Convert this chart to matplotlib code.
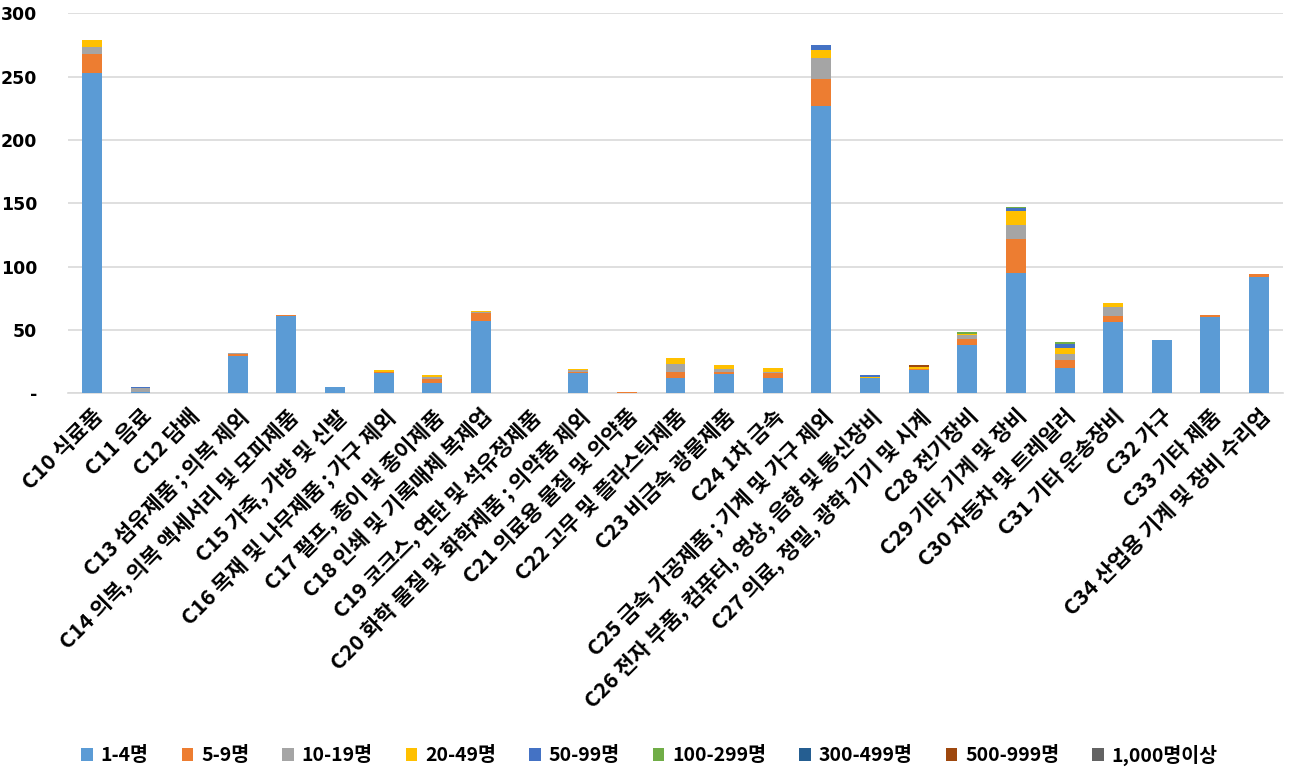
import numpy as np
import matplotlib
matplotlib.use('Agg')
import matplotlib.pyplot as plt

plt.rcParams['font.family'] = ['Noto Sans CJK KR', 'DejaVu Sans']

# categories (industry codes)
cats = ['C10 식료품', 'C11 음료', 'C12 담배', 'C13 섬유제품 ; 의복 제외',
        'C14 의복, 의복 액세서리 및 모피제품', 'C15 가죽, 가방 및 신발',
        'C16 목재 및 나무제품 ; 가구 제외', 'C17 펄프, 종이 및 종이제품',
        'C18 인쇄 및 기록매체 복제업', 'C19 코크스, 연탄 및 석유정제품',
        'C20 화학 물질 및 화학제품 ; 의약품 제외', 'C21 의료용 물질 및 의약품',
        'C22 고무 및 플라스틱제품', 'C23 비금속 광물제품', 'C24 1차 금속',
        'C25 금속 가공제품 ; 기계 및 가구 제외', 'C26 전자 부품, 컴퓨터, 영상, 음향 및 통신장비',
        'C27 의료, 정밀, 광학 기기 및 시계', 'C28 전기장비', 'C29 기타 기계 및 장비',
        'C30 자동차 및 트레일러', 'C31 기타 운송장비', 'C32 가구', 'C33 기타 제품',
        'C34 산업용 기계 및 장비 수리업']

series_names = ['1-4명', '5-9명', '10-19명', '20-49명', '50-99명', '100-299명',
                '300-499명', '500-999명', '1,000명이상']

s_1_4 = [253, 1, 0, 29, 61, 5, 16, 8, 57, 0, 16, 0, 12, 15, 12, 227, 12, 18, 38, 95, 20, 56, 42, 60, 92]
s_5_9 = [15, 0, 0, 2, 1, 0, 1, 3, 6, 0, 1, 1, 5, 2, 4, 21, 0, 1, 5, 27, 6, 5, 0, 2, 2]
s_10_19 = [5, 3, 0, 1, 0, 0, 0, 2, 1, 0, 1, 0, 6, 2, 1, 17, 0, 0, 3, 11, 5, 7, 0, 0, 0]
s_20_49 = [6, 0, 0, 0, 0, 0, 1, 1, 1, 0, 1, 0, 5, 3, 3, 6, 1, 2, 1, 11, 5, 3, 0, 0, 0]
s_50_99 = [0, 1, 0, 0, 0, 0, 0, 0, 0, 0, 0, 0, 0, 0, 0, 4, 1, 0, 0, 2, 3, 0, 0, 0, 0]
s_100_299 = [0, 0, 0, 0, 0, 0, 0, 0, 0, 0, 0, 0, 0, 0, 0, 0, 0, 0, 1, 1, 1, 0, 0, 0, 0]
s_300_499 = [0] * 25
s_500_999 = [0, 0, 0, 0, 0, 0, 0, 0, 0, 0, 0, 0, 0, 0, 0, 0, 0, 1, 0, 0, 0, 0, 0, 0, 0]
s_1000 = [0] * 25

series = [s_1_4, s_5_9, s_10_19, s_20_49, s_50_99, s_100_299, s_300_499, s_500_999, s_1000]
colors = ['#5B9BD5', '#ED7D31', '#A5A5A5', '#FFC000', '#4472C4', '#70AD47',
          '#255E91', '#9E480E', '#636363']

fig = plt.figure(figsize=(12.99, 7.8), dpi=100)
ax = fig.add_axes([0.052, 0.496, 0.936, 0.487])

x = np.arange(len(cats))
bottom = np.zeros(len(cats))
for name, vals, c in zip(series_names, series, colors):
    vals = np.array(vals, dtype=float)
    ax.bar(x, vals, 0.41, bottom=bottom, color=c, label=name, zorder=3)
    bottom += vals

ax.set_xlim(-0.5, len(cats) - 0.5)
ax.set_ylim(0, 300)
ax.set_yticks([0, 50, 100, 150, 200, 250, 300])
ax.set_yticklabels(['-', '50', '100', '150', '200', '250', '300'],
                   fontsize=12.5, fontweight='bold', family='DejaVu Sans')
ax.set_xticks(x)
ax.set_xticklabels(cats, rotation=45, ha='right', rotation_mode='anchor',
                   fontsize=15.5, fontweight='bold')
ax.tick_params(axis='x', length=0, pad=9)
ax.tick_params(axis='y', length=0, pad=22)
ax.yaxis.grid(True, color='#D9D9D9', linewidth=1.2, zorder=0)
for s in ['top', 'right', 'left']:
    ax.spines[s].set_visible(False)
ax.spines['bottom'].set_color('#D9D9D9')
ax.spines['bottom'].set_linewidth(1.2)

fig.legend(loc='center', bbox_to_anchor=(0.5, 0.032), ncol=9, frameon=False,
           prop={'size': 14, 'weight': 'bold'}, handlelength=0.6, handleheight=0.6,
           columnspacing=1.7, handletextpad=0.4)

fig.savefig('out.png', dpi=100)
